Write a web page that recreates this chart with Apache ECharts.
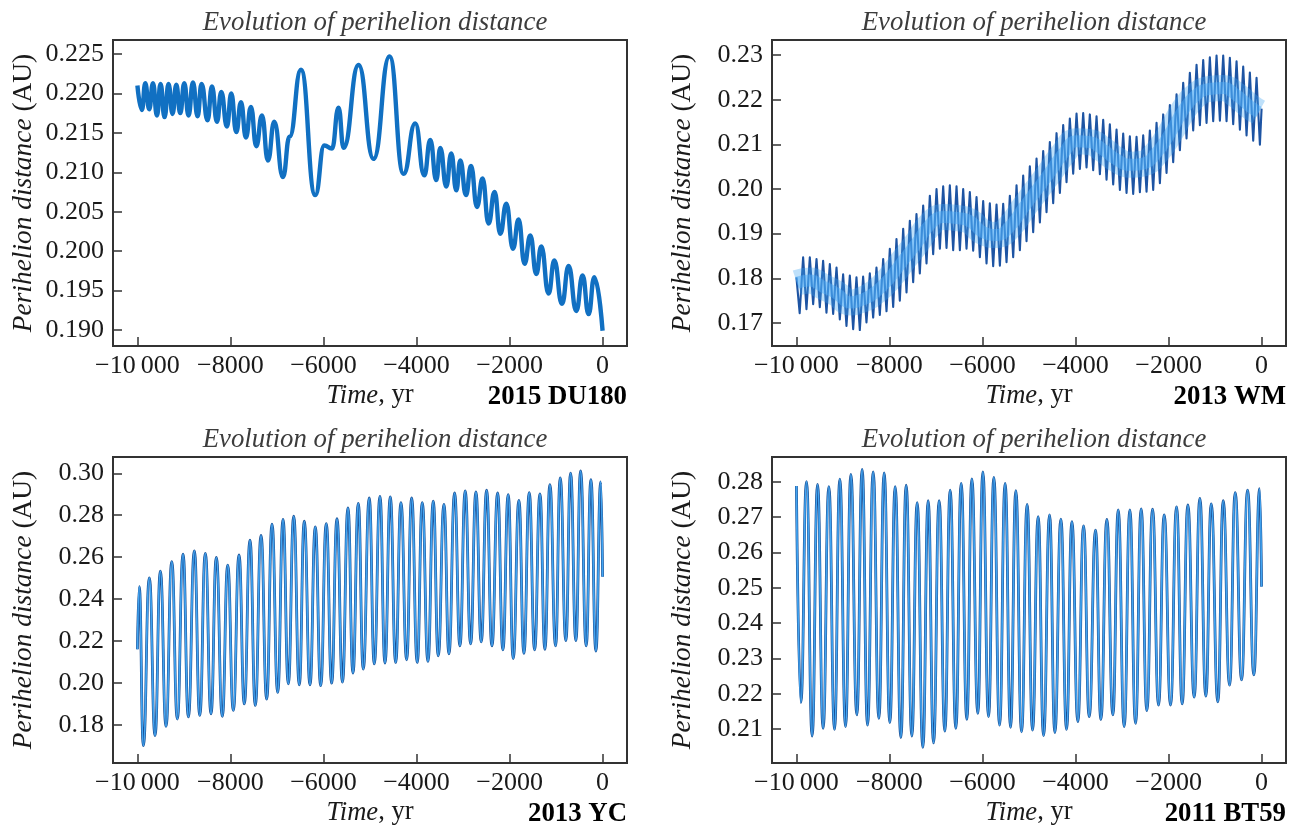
<!DOCTYPE html>
<html>
<head>
<meta charset="utf-8">
<script src="https://cdn.jsdelivr.net/npm/echarts@6/dist/echarts.min.js"></script>
<style>
  html, body { margin: 0; padding: 0; background: #fff; }
  #chart { width: 1294px; height: 827px; }
</style>
</head>
<body>
<div id="chart"></div>
<script>
// ---- data: time (yr) and perihelion distance (AU) ----
var timeTicks = [-10000, -8000, -6000, -4000, -2000, 0]

// 2015 DU180
var du180Time = [-10000, -9903, -9832, -9746, -9666, -9580, -9503, -9417, -9331, -9245, -9165, -9079,
  -8993, -8901, -8806, -8707, -8621, -8492, -8398, -8290, -8198, -8075, -7983, -7875, -7774, -7667,
  -7560, -7445, -7323, -7194, -7058, -6872, -6730, -6484, -6177, -5983, -5818, -5676, -5568, -5246,
  -4924, -4580, -4279, -4027, -3833, -3704, -3575, -3489, -3360, -3253, -3145, -3059, -2937, -2829,
  -2700, -2580, -2451, -2322, -2199, -2070, -1926, -1806, -1677, -1554, -1425, -1318, -1161, -1038,
  -873, -731, -565, -430, -301, -178, 0]
var du180Q = [0.2210, 0.2179, 0.2213, 0.2180, 0.2213, 0.2172, 0.2212, 0.2170, 0.2212, 0.2174, 0.2211, 0.2175,
  0.2213, 0.2172, 0.2214, 0.2171, 0.2212, 0.2166, 0.2209, 0.2164, 0.2202, 0.2158, 0.2200, 0.2151, 0.2189, 0.2144,
  0.2183, 0.2133, 0.2172, 0.2115, 0.2164, 0.2094, 0.2145, 0.2230, 0.2071, 0.2134, 0.2130, 0.2182, 0.2131, 0.2236,
  0.2117, 0.2247, 0.2098, 0.2162, 0.2096, 0.2141, 0.2090, 0.2131, 0.2082, 0.2124, 0.2077, 0.2115, 0.2071, 0.2108,
  0.2056, 0.2092, 0.2035, 0.2075, 0.2022, 0.2060, 0.2003, 0.2040, 0.1984, 0.2020, 0.1971, 0.2006, 0.1946, 0.1988,
  0.1933, 0.1981, 0.1924, 0.1969, 0.1920, 0.1967, 0.1899]
var du180Ticks = [0.190, 0.195, 0.200, 0.205, 0.210, 0.215, 0.220, 0.225]

// 2013 WM (fast oscillation: alternating upper / lower excursions)
var wmTime = [-10000, -9930,
  -9856, -9784, -9712, -9640, -9568, -9497, -9426, -9354, -9282, -9210, -9138, -9067, -8996, -8924,
  -8852, -8780, -8709, -8637, -8566, -8494, -8422, -8350, -8279, -8207, -8135, -8063, -7992, -7920,
  -7849, -7777, -7705, -7633, -7562, -7490, -7419, -7347, -7275, -7203, -7132, -7060, -6988, -6916,
  -6845, -6773, -6702, -6630, -6558, -6486, -6415, -6343, -6272, -6200, -6128, -6056, -5985, -5913,
  -5842, -5770, -5698, -5626, -5555, -5483, -5412, -5340, -5268, -5196, -5125, -5053, -4982, -4910,
  -4838, -4766, -4695, -4623, -4552, -4480, -4408, -4336, -4265, -4193, -4122, -4050, -3978, -3906,
  -3835, -3763, -3692, -3620, -3548, -3476, -3405, -3333, -3262, -3190, -3118, -3046, -2975, -2903,
  -2832, -2760, -2688, -2616, -2545, -2473, -2402, -2330, -2258, -2186, -2115, -2043, -1972, -1900,
  -1828, -1756, -1685, -1613, -1542, -1470, -1398, -1326, -1255, -1183, -1112, -1040, -968, -896,
  -825, -753, -682, -610, -538, -466, -395, -323, -252, -180, -108, -36, 0]
var wmQ = [0.1802, 0.1722,
  0.1847, 0.1731, 0.1847, 0.1742, 0.1843, 0.1735, 0.1839, 0.1723, 0.1832, 0.1720, 0.1824, 0.1708, 0.1809, 0.1693,
  0.1806, 0.1686, 0.1802, 0.1684, 0.1804, 0.1701, 0.1811, 0.1712, 0.1824, 0.1718, 0.1843, 0.1726, 0.1866, 0.1736,
  0.1888, 0.1750, 0.1911, 0.1768, 0.1929, 0.1791, 0.1944, 0.1811, 0.1963, 0.1833, 0.1985, 0.1854, 0.2000, 0.1866,
  0.2006, 0.1868, 0.2008, 0.1863, 0.2006, 0.1863, 0.2000, 0.1866, 0.1993, 0.1862, 0.1982, 0.1847, 0.1973, 0.1833,
  0.1968, 0.1827, 0.1965, 0.1828, 0.1967, 0.1836, 0.1985, 0.1847, 0.2008, 0.1863, 0.2030, 0.1883, 0.2051, 0.1903,
  0.2068, 0.1925, 0.2085, 0.1948, 0.2105, 0.1968, 0.2125, 0.1991, 0.2143, 0.2015, 0.2158, 0.2034, 0.2169, 0.2045,
  0.2170, 0.2048, 0.2167, 0.2042, 0.2163, 0.2033, 0.2155, 0.2021, 0.2145, 0.2010, 0.2133, 0.1998, 0.2124, 0.1991,
  0.2118, 0.1989, 0.2117, 0.1993, 0.2120, 0.1994, 0.2131, 0.1998, 0.2148, 0.2013, 0.2167, 0.2036, 0.2188, 0.2060,
  0.2212, 0.2087, 0.2238, 0.2113, 0.2260, 0.2131, 0.2278, 0.2143, 0.2289, 0.2148, 0.2295, 0.2152, 0.2299, 0.2153,
  0.2299, 0.2152, 0.2294, 0.2145, 0.2286, 0.2133, 0.2274, 0.2120, 0.2261, 0.2108, 0.2249, 0.2099, 0.2180]
// centre of the light band
var wmMidTime = [-9990, -9712, -9426, -9138, -8852, -8566, -8279, -7992, -7705, -7419, -7132, -6845,
  -6558, -6272, -5985, -5698, -5412, -5125, -4838, -4552, -4265, -3978, -3692, -3405, -3118, -2832,
  -2545, -2258, -1972, -1685, -1398, -1112, -825, -538, -252, -60]
var wmMidQ = [0.1790, 0.1795, 0.1781, 0.1766, 0.1746, 0.1753, 0.1771, 0.1801, 0.1840, 0.1878, 0.1920, 0.1937,
  0.1935, 0.1928, 0.1903, 0.1897, 0.1916, 0.1957, 0.1997, 0.2037, 0.2079, 0.2107, 0.2105, 0.2088, 0.2066, 0.2054,
  0.2057, 0.2081, 0.2124, 0.2176, 0.2211, 0.2224, 0.2226, 0.2210, 0.2185, 0.2172]
var wmTicks = [0.17, 0.18, 0.19, 0.20, 0.21, 0.22, 0.23]

// 2013 YC
var ycTime = [-10000, -9960, -9873, -9744, -9621, -9507, -9385, -9262, -9142, -9019, -8905, -8776, -8660,
  -8540, -8418, -8304, -8175, -8059, -7938, -7816, -7702, -7580, -7466, -7343, -7221, -7107, -6984,
  -6870, -6756, -6640, -6520, -6413, -6290, -6176, -6060, -5940, -5824, -5710, -5592, -5474, -5366,
  -5252, -5145, -5016, -4908, -4786, -4678, -4564, -4448, -4335, -4212, -4105, -3984, -3877, -3754,
  -3640, -3533, -3410, -3303, -3181, -3067, -2953, -2837, -2723, -2609, -2493, -2379, -2256, -2143,
  -2029, -1921, -1799, -1691, -1577, -1461, -1347, -1240, -1133, -1010, -911, -789, -688, -574,
  -473, -352, -251, -144, -40, 0]
var ycQ = [0.2160, 0.2459, 0.1700, 0.2501, 0.1748, 0.2533, 0.1792, 0.2578, 0.1827, 0.2614, 0.1837, 0.2630, 0.1844,
  0.2618, 0.1852, 0.2598, 0.1840, 0.2562, 0.1868, 0.2610, 0.1899, 0.2681, 0.1892, 0.2703, 0.1922, 0.2757, 0.1954,
  0.2780, 0.1995, 0.2795, 0.1990, 0.2771, 0.1990, 0.2744, 0.1986, 0.2760, 0.1998, 0.2783, 0.2003, 0.2835, 0.2046,
  0.2856, 0.2065, 0.2882, 0.2090, 0.2890, 0.2094, 0.2887, 0.2097, 0.2860, 0.2110, 0.2882, 0.2097, 0.2860, 0.2102,
  0.2867, 0.2129, 0.2852, 0.2138, 0.2906, 0.2176, 0.2916, 0.2186, 0.2911, 0.2195, 0.2919, 0.2176, 0.2906, 0.2157,
  0.2898, 0.2116, 0.2871, 0.2141, 0.2908, 0.2157, 0.2902, 0.2160, 0.2946, 0.2176, 0.2978, 0.2201, 0.3001, 0.2201,
  0.3011, 0.2176, 0.2970, 0.2151, 0.2959, 0.2506]
var ycTicks = [0.18, 0.20, 0.22, 0.24, 0.26, 0.28, 0.30]

// 2011 BT59
var bt59Time = [-10000, -9905, -9783, -9662, -9546, -9426, -9303, -9181, -9067, -8944, -8830, -8701,
  -8587, -8471, -8350, -8228, -8114, -7992, -7877, -7755, -7641, -7519, -7404, -7282, -7168, -7052,
  -6932, -6809, -6695, -6573, -6458, -6336, -6229, -6100, -5992, -5870, -5756, -5633, -5513, -5397,
  -5283, -5160, -5040, -4924, -4803, -4687, -4558, -4444, -4315, -4193, -4078, -3950, -3827, -3706,
  -3569, -3455, -3326, -3197, -3082, -2954, -2832, -2709, -2589, -2466, -2344, -2215, -2094, -1957,
  -1828, -1707, -1585, -1449, -1327, -1198, -1083, -940, -825, -688, -567, -430, -301, -166, -43, 0]
var bt59Q = [0.2788, 0.2175, 0.2800, 0.2080, 0.2792, 0.2102, 0.2786, 0.2099, 0.2807, 0.2107, 0.2821, 0.2140,
  0.2835, 0.2111, 0.2828, 0.2130, 0.2825, 0.2118, 0.2786, 0.2076, 0.2790, 0.2080, 0.2741, 0.2048, 0.2746, 0.2061,
  0.2746, 0.2094, 0.2776, 0.2102, 0.2795, 0.2127, 0.2808, 0.2144, 0.2828, 0.2135, 0.2812, 0.2111, 0.2795, 0.2105,
  0.2775, 0.2092, 0.2736, 0.2097, 0.2701, 0.2081, 0.2706, 0.2090, 0.2694, 0.2099, 0.2687, 0.2121, 0.2675, 0.2135,
  0.2663, 0.2127, 0.2693, 0.2140, 0.2720, 0.2107, 0.2720, 0.2116, 0.2723, 0.2152, 0.2722, 0.2168, 0.2706, 0.2168,
  0.2729, 0.2171, 0.2734, 0.2190, 0.2753, 0.2193, 0.2737, 0.2177, 0.2746, 0.2224, 0.2769, 0.2239, 0.2776, 0.2253,
  0.2780, 0.2503]
var bt59Ticks = [0.21, 0.22, 0.23, 0.24, 0.25, 0.26, 0.27, 0.28]

// ---- chart ----
var FONT = '"Liberation Serif", "Times New Roman", serif'
var INK = '#1a1a1a'

function pairs(xs, ys) {
  return xs.map(function (x, i) { return [x, ys[i]] })
}

function timeLabel(v) {
  if (v === -10000) return '\u221210\u2009000'
  return v < 0 ? '\u2212' + Math.abs(v) : String(v)
}

var panels = [
  { left: 113, top: 40, ymin: 0.18796, ymax: 0.22678, ticks: du180Ticks, digits: 3, name: '2015 DU180' },
  { left: 772, top: 40, ymin: 0.16483, ymax: 0.23337, ticks: wmTicks, digits: 2, name: '2013 WM' },
  { left: 113, top: 457, ymin: 0.16171, ymax: 0.30778, ticks: ycTicks, digits: 2, name: '2013 YC' },
  { left: 772, top: 457, ymin: 0.20038, ymax: 0.28699, ticks: bt59Ticks, digits: 2, name: '2011 BT59' }
]
var PW = 514, PH = 306

var grids = [], xAxes = [], yAxes = [], titles = [], graphics = []
panels.forEach(function (p, i) {
  grids.push({
    left: p.left, top: p.top, width: PW, height: PH,
    show: true, borderColor: '#333', borderWidth: 2, backgroundColor: 'transparent'
  })
  xAxes.push({
    type: 'value', gridIndex: i, min: -10525, max: 525,
    axisLine: { show: false, onZero: false },
    splitLine: { show: false },
    axisTick: { inside: true, length: 9, customValues: timeTicks, lineStyle: { color: '#333', width: 1.5 } },
    axisLabel: {
      customValues: timeTicks, margin: 7, formatter: timeLabel,
      fontFamily: FONT, fontSize: 26, color: INK
    },
    name: '{i|Time}, yr', nameLocation: 'middle', nameGap: 36,
    nameTextStyle: {
      fontFamily: FONT, fontSize: 26.6, color: INK,
      rich: { i: { fontFamily: FONT, fontSize: 26.6, fontStyle: 'italic', color: INK } }
    }
  })
  yAxes.push({
    type: 'value', gridIndex: i, min: p.ymin, max: p.ymax,
    axisLine: { show: false, onZero: false },
    splitLine: { show: false },
    axisTick: { inside: true, length: 9, customValues: p.ticks, lineStyle: { color: '#333', width: 1.5 } },
    axisLabel: {
      customValues: p.ticks, margin: 9,
      formatter: (function (d) { return function (v) { return v.toFixed(d) } })(p.digits),
      fontFamily: FONT, fontSize: 26, color: INK
    }
  })
  titles.push({
    text: 'Evolution of perihelion distance',
    left: p.left + PW / 2, top: p.top - 36, textAlign: 'center',
    textStyle: { fontFamily: FONT, fontSize: 26.8, fontStyle: 'italic', fontWeight: 'normal', color: '#3c3c3c' }
  })
  graphics.push({
    type: 'text', x: p.left - 89, y: p.top + PH / 2, rotation: Math.PI / 2,
    style: {
      text: '{i|Perihelion distance} (AU)',
      fontFamily: FONT, fontSize: 27.4, fill: INK,
      align: 'center', verticalAlign: 'middle',
      rich: { i: { fontFamily: FONT, fontSize: 27.4, fontStyle: 'italic', fill: INK } }
    }
  })
  graphics.push({
    type: 'text', x: p.left + PW, y: p.top + PH + 51,
    style: {
      text: p.name, fontFamily: FONT, fontSize: 26.8, fontWeight: 'bold', fill: '#000',
      align: 'right', verticalAlign: 'middle'
    }
  })
})

function line(idx, data, color, width, opts) {
  var s = {
    type: 'line', xAxisIndex: idx, yAxisIndex: idx, data: data,
    showSymbol: false, silent: true, clip: true,
    lineStyle: { color: color, width: width, cap: 'butt', join: 'round' }
  }
  for (var k in opts) s[k] = opts[k]
  return s
}

var chart = echarts.init(document.getElementById('chart'))
chart.setOption({
  animation: false,
  backgroundColor: '#fff',
  title: titles,
  grid: grids,
  xAxis: xAxes,
  yAxis: yAxes,
  graphic: graphics,
  series: [
    line(0, pairs(du180Time, du180Q), '#1170c2', 4.4, { smooth: 0.5, smoothMonotone: 'x' }),
    line(1, pairs(wmTime, wmQ), '#1d54a3', 2.1, {}),
    line(1, pairs(wmMidTime, wmMidQ), 'rgba(70,165,242,0.35)', 26, { smooth: 0.5 }),
    line(1, pairs(wmMidTime, wmMidQ), 'rgba(75,170,245,0.5)', 12, { smooth: 0.5 }),
    line(2, pairs(ycTime, ycQ), '#1b4e92', 2.8, { smooth: 0.5, smoothMonotone: 'x' }),
    line(2, pairs(ycTime, ycQ), '#42a5f2', 1.7, { smooth: 0.5, smoothMonotone: 'x' }),
    line(3, pairs(bt59Time, bt59Q), '#1b4e92', 2.8, { smooth: 0.5, smoothMonotone: 'x' }),
    line(3, pairs(bt59Time, bt59Q), '#42a5f2', 1.7, { smooth: 0.5, smoothMonotone: 'x' })
  ]
})
</script>
</body>
</html>
